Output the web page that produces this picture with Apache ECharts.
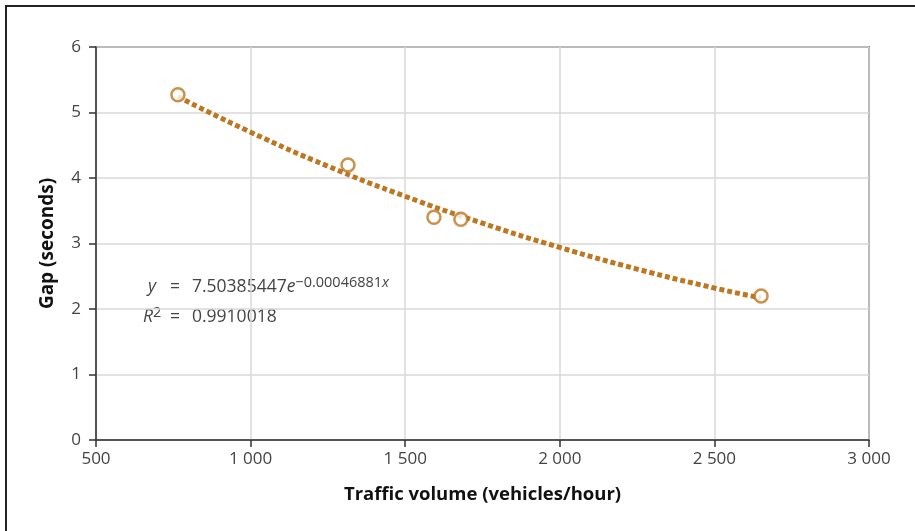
<!DOCTYPE html>
<html>
<head>
<meta charset="utf-8">
<script src="https://cdn.jsdelivr.net/npm/echarts@6/dist/echarts.min.js"></script>
<style>
html,body{margin:0;padding:0;background:#fff;}
#c{width:915px;height:531px;}
</style>
</head>
<body>
<div id="c"></div>
<script>
// Observed points (traffic volume, gap)
const volume = [765, 1315, 1593, 1680, 2651];
const gap = [5.27, 4.20, 3.40, 3.37, 2.20];
// Trend line
const trendVolume = [765, 1000, 1250, 1500, 1750, 2000, 2250, 2500, 2651];
const trendGap = [5.24, 4.70, 4.18, 3.72, 3.31, 2.94, 2.61, 2.32, 2.17];
const xTicks = [500, 1000, 1500, 2000, 2500, 3000];
const yTicks = [0, 1, 2, 3, 4, 5, 6];

const orange = '#BC7720';
const font = '"Open Sans", "Noto Sans", sans-serif';
const txt = '#444';
const chart = echarts.init(document.getElementById('c'));
const fmt = v => String(v).replace(/\B(?=(\d{3})+(?!\d))/g, ' ');

const rich = {
  i: {fontFamily: font, fontSize: 17.5, fontStyle: 'italic', fill: txt},
  n: {fontFamily: font, fontSize: 17.5, fill: txt},
  s: {fontFamily: font, fontSize: 14.5, fill: txt, verticalAlign: 'top', padding: [0,0,9,0]},
  si: {fontFamily: font, fontSize: 14.5, fontStyle: 'italic', fill: txt, verticalAlign: 'top', padding: [0,0,9,0]}
};

chart.setOption({
  animation: false,
  backgroundColor: '#fff',
  grid: {left: 96, right: 46, top: 47, bottom: 91, show: true, borderColor: '#333', borderWidth: 1.5, backgroundColor: 'transparent'},
  xAxis: {
    type: 'value', min: xTicks[0], max: xTicks[xTicks.length-1], interval: 500,
    name: 'Traffic volume (vehicles/hour)', nameLocation: 'middle', nameGap: 45,
    nameTextStyle: {fontFamily: font, fontSize: 18.5, fontWeight: 'bold', color: '#111'},
    axisLine: {lineStyle: {color: '#333', width: 1.5}},
    axisTick: {show: true, length: 7, lineStyle: {color: '#333', width: 1.5}},
    axisLabel: {fontFamily: font, fontSize: 17, color: txt, margin: 11, formatter: fmt},
    splitLine: {show: true, lineStyle: {color: '#d9d9d9', width: 1.5}}
  },
  yAxis: {
    type: 'value', min: yTicks[0], max: yTicks[yTicks.length-1], interval: 1,
    name: 'Gap (seconds)', nameLocation: 'middle', nameGap: 39,
    nameTextStyle: {fontFamily: font, fontSize: 19, fontWeight: 'bold', color: '#111'},
    axisLine: {show: true, lineStyle: {color: '#333', width: 1.5}},
    axisTick: {show: true, length: 7, lineStyle: {color: '#333', width: 1.5}},
    axisLabel: {fontFamily: font, fontSize: 17, color: txt, margin: 15},
    splitLine: {show: true, lineStyle: {color: '#d9d9d9', width: 1.5}}
  },
  series: [
    {
      type: 'line', smooth: true, showSymbol: false, symbol: 'none',
      data: trendVolume.map((v, i) => [v, trendGap[i]]),
      lineStyle: {color: orange, width: 5, type: [5, 3], cap: 'butt'},
      z: 2
    },
    {
      type: 'scatter', symbol: 'circle', symbolSize: 13,
      data: volume.map((v, i) => [v, gap[i]]),
      itemStyle: {color: '#fff', borderColor: orange, borderWidth: 2.5},
      z: 3
    }
  ],
  graphic: [
    {type: 'rect', shape: {x: 6, y: 6, width: 1000, height: 1000}, style: {fill: 'none', stroke: '#222', lineWidth: 2}, silent: true},
    {type: 'text', x: 156, y: 287, style: {text: 'y', font: 'italic 17.5px ' + font, fill: txt, align: 'right', verticalAlign: 'middle'}},
    {type: 'text', x: 175, y: 287, style: {text: '=', font: '17.5px ' + font, fill: txt, align: 'center', verticalAlign: 'middle'}},
    {type: 'text', x: 192, y: 287, style: {rich: rich, text: '{n|7.50385447}{i|e}{s|\u22120.00046881}{si|x}', align: 'left', verticalAlign: 'middle'}},
    {type: 'text', x: 143, y: 317, style: {rich: rich, text: '{i|R}{s|2}', align: 'left', verticalAlign: 'middle'}},
    {type: 'text', x: 175, y: 317, style: {text: '=', font: '17.5px ' + font, fill: txt, align: 'center', verticalAlign: 'middle'}},
    {type: 'text', x: 192, y: 317, style: {text: '0.9910018', font: '17.5px ' + font, fill: txt, align: 'left', verticalAlign: 'middle'}}
  ]
});
</script>
</body>
</html>
